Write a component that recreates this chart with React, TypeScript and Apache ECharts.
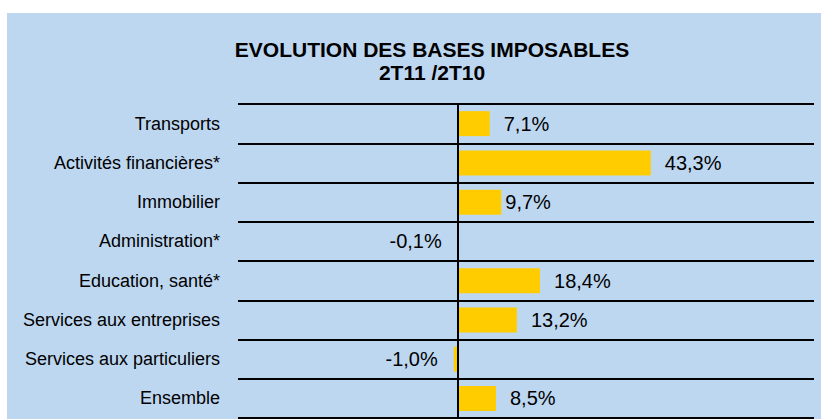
import React, { useEffect, useRef } from "react";
import * as echarts from "echarts";

const categories = [
  "Transports",
  "Activités financières*",
  "Immobilier",
  "Administration*",
  "Education, santé*",
  "Services aux entreprises",
  "Services aux particuliers",
  "Ensemble",
];
const values = [7.1, 43.3, 9.7, -0.1, 18.4, 13.2, -1.0, 8.5];
const titleLines = ["EVOLUTION DES BASES IMPOSABLES", "2T11 /2T10"];

const FONT = "'Liberation Sans', Arial, sans-serif";
const labelDistanceOverride: Record<string, number> = { Immobilier: 4 };

function fmt(v: number) {
  return v.toFixed(1).replace(".", ",") + "%";
}

export default function App() {
  const ref = useRef<HTMLDivElement>(null);
  useEffect(() => {
    if (!ref.current) return;
    const chart = echarts.init(ref.current, undefined, { renderer: "svg" });
    const data = values.map((v, i) => {
      const cat = categories[i];
      const neg = v < 0;
      return {
        value: v,
        label: {
          position: neg ? "left" : "right",
          distance: labelDistanceOverride[cat] ?? (neg ? 16 : 14),
        },
      };
    });
    chart.setOption({
      animation: false,
      backgroundColor: "#BED7F1",
      graphic: [
        {
          type: "text",
          x: 425,
          y: 25,
          style: {
            text: titleLines.join("\n"),
            textAlign: "center",
            textVerticalAlign: "top",
            font: `bold 21px ${FONT}`,
            lineHeight: 23,
            fill: "#000",
          },
        },
      ],
      grid: { left: 231, right: 7, top: 91, bottom: 1, containLabel: false },
      xAxis: {
        type: "value",
        min: -49.5,
        max: 80,
        axisLine: { show: false },
        axisTick: { show: false },
        axisLabel: { show: false },
        splitLine: { show: false },
      },
      yAxis: {
        type: "category",
        inverse: true,
        data: categories,
        axisLine: { show: false },
        axisTick: { show: false },
        axisLabel: {
          color: "#000",
          fontSize: 18,
          fontFamily: FONT,
          margin: 18,
        },
        splitLine: { show: true, lineStyle: { color: "#000", width: 2 } },
      },
      series: [
        {
          type: "bar",
          data,
          barWidth: 25,
          itemStyle: { color: "#FFCC00" },
          label: {
            show: true,
            color: "#000",
            fontSize: 20,
            fontFamily: FONT,
            formatter: (p: any) => fmt(p.value),
          },
          markLine: {
            silent: true,
            symbol: "none",
            label: { show: false },
            lineStyle: { color: "#000", width: 2, type: "solid" },
            data: [{ xAxis: 0 }],
          },
        },
      ],
    });
    return () => chart.dispose();
  }, []);
  return (
    <div
      ref={ref}
      style={{ position: "absolute", left: 7, top: 13, width: 814, height: 406 }}
    />
  );
}
